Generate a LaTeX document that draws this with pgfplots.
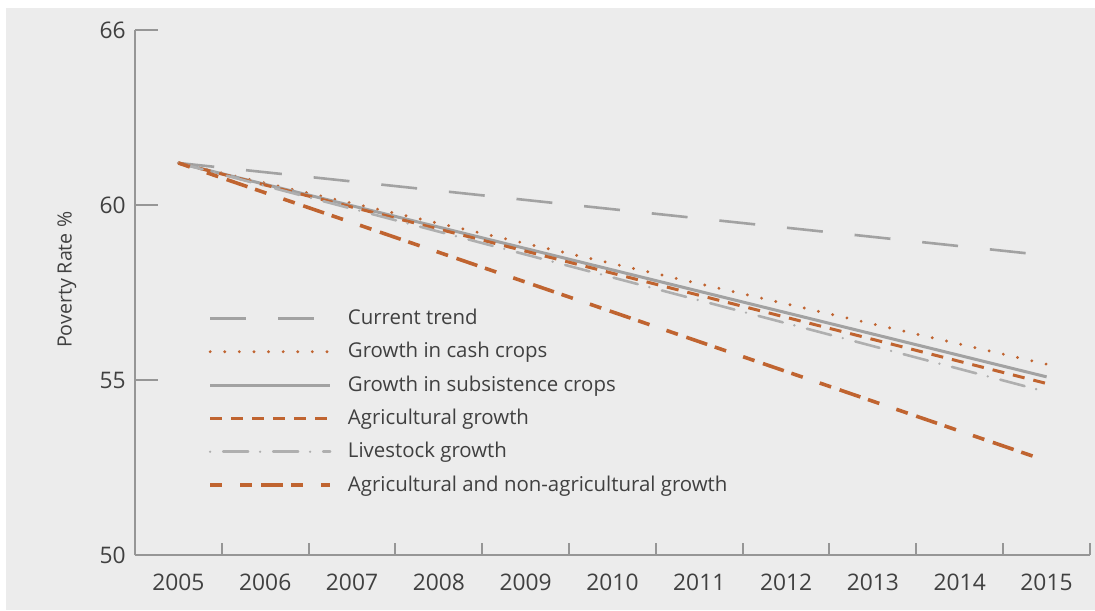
\documentclass[border=0pt]{standalone}
\usepackage{fontspec}
\setmainfont{Open Sans}
\usepackage{pgfplots}
\pgfplotsset{compat=1.18}

\definecolor{bg}{RGB}{236,236,236}
\definecolor{axisgrey}{RGB}{150,150,150}
\definecolor{txt}{RGB}{64,64,64}
\definecolor{orng}{RGB}{192,100,48}
\definecolor{ln}{RGB}{162,162,162}
\definecolor{lnlight}{RGB}{175,175,175}

\begin{document}
\begin{tikzpicture}
\useasboundingbox (-67.5pt,-27.5pt) rectangle (480pt,277.5pt);
\fill[bg] (-64.5pt,-27.5pt) rectangle (480pt,273.5pt);
\begin{axis}[
  scale only axis,
  width=477.5pt, height=262.5pt,
  xmin=2004.5, xmax=2015.5,
  ymin=50, ymax=65,
  axis x line*=bottom, axis y line*=left,
  axis line style={axisgrey, line width=1pt},
  tick align=inside,
  xtick={2005,...,2015},
  minor xtick={2005.5,2006.5,...,2015.5},
  major x tick style={draw=none},
  minor tick length=6pt,
  major tick length=11.5pt,
  tick style={axisgrey, line width=1pt},
  ytick={50,55,60,65},
  yticklabels={50,55,60,66},
  /pgf/number format/assume math mode=true,
  /pgf/number format/set thousands separator={},
  ticklabel style={text=txt, font=\fontsize{11.4}{13}\selectfont, inner sep=0pt},
  xticklabel style={anchor=north, yshift=-9.5pt},
  yticklabel style={anchor=east, xshift=-4.5pt},
  ylabel={Poverty Rate \%},
  ylabel style={at={(axis description cs:-0.0712,0.524)}, anchor=center,
    text=txt, font=\fontsize{9.8}{12}\selectfont},
  legend cell align=left,
  legend style={draw=none, fill=none, at={(0.0764,0.4724)}, anchor=north west,
    inner sep=0pt, column sep=8pt, row sep=5.67pt, text=txt,
    font=\fontsize{10.2}{12}\selectfont,
    nodes={inner sep=0pt, text height=8.5pt, text depth=2.5pt}},
  legend image code/.code={\draw[#1] (0pt,0pt) -- (60pt,0pt);},
]
\addplot[ln, line width=1.3pt, dash pattern=on 18pt off 16pt]
  coordinates {(2005,61.2) (2015,58.56)};
\addlegendentry{Current trend}
\addplot[orng, line width=1.6pt, line cap=round, dash pattern=on 0pt off 7.3pt]
  coordinates {(2005,61.2) (2015,55.45)};
\addlegendentry{Growth in cash crops}
\addplot[ln, line width=1.5pt]
  coordinates {(2005,61.2) (2015,55.09)};
\addlegendentry{Growth in subsistence crops}
\addplot[orng, line width=1.5pt, dash pattern=on 6pt off 4.5pt]
  coordinates {(2005,61.2) (2015,54.9)};
\addlegendentry{Agricultural growth}
\addplot[lnlight, line width=1.3pt, line cap=round, dash pattern=on 12.5pt off 6pt on 0pt off 6.5pt,
  legend image post style={dash phase=18.5pt}]
  coordinates {(2005,61.2) (2015,54.66)};
\addlegendentry{Livestock growth}
\addplot[orng, line width=1.8pt, dash pattern=on 6pt off 9pt on 6pt off 4.5pt on 11pt off 4pt]
  coordinates {(2005,61.2) (2015,52.69)};
\addlegendentry{Agricultural and non-agricultural growth}
\end{axis}
\end{tikzpicture}
\end{document}
